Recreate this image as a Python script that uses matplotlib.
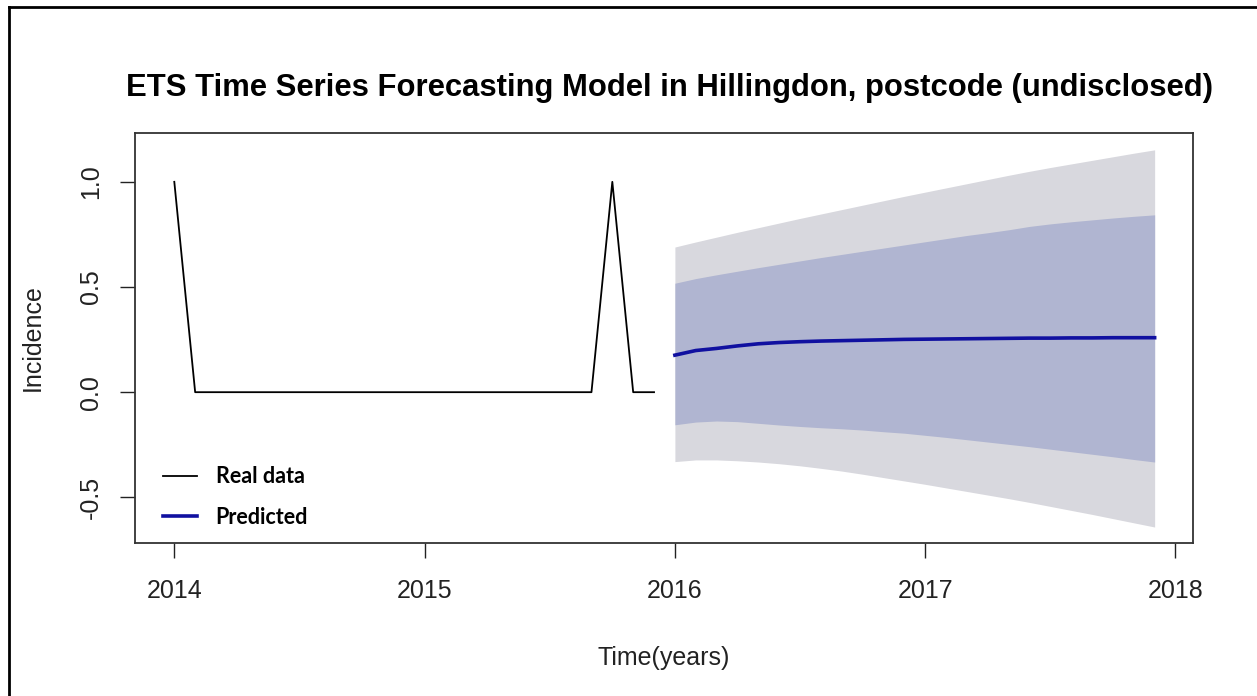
import matplotlib
matplotlib.use("Agg")
import matplotlib.pyplot as plt
from matplotlib.lines import Line2D

plt.rcParams['font.family'] = ['Liberation Sans', 'DejaVu Sans']

# monthly observations, Jan 2014 - Dec 2015
real_t = [2014 + i / 12 for i in range(24)]
real_y = [1, 0, 0, 0, 0, 0, 0, 0, 0, 0, 0, 0,
          0, 0, 0, 0, 0, 0, 0, 0, 0, 1, 0, 0]

# ETS forecast, Jan 2016 - Dec 2017
fc_t = [2016 + i / 12 for i in range(24)]
fc_mean = [0.176, 0.198, 0.208, 0.220, 0.230, 0.236, 0.240, 0.243,
           0.245, 0.247, 0.249, 0.251, 0.252, 0.253, 0.254, 0.255,
           0.256, 0.257, 0.257, 0.258, 0.258, 0.259, 0.259, 0.259]
lo80 = [-0.155, -0.142, -0.137, -0.140, -0.148, -0.156, -0.163, -0.169,
        -0.174, -0.180, -0.188, -0.195, -0.205, -0.215, -0.226, -0.237,
        -0.248, -0.259, -0.271, -0.283, -0.295, -0.307, -0.320, -0.332]
hi80 = [0.518, 0.540, 0.558, 0.575, 0.592, 0.608, 0.624, 0.640,
        0.655, 0.670, 0.685, 0.700, 0.715, 0.730, 0.745, 0.758,
        0.772, 0.788, 0.800, 0.810, 0.819, 0.828, 0.836, 0.843]
lo95 = [-0.330, -0.322, -0.322, -0.326, -0.332, -0.340, -0.350, -0.362,
        -0.375, -0.390, -0.406, -0.422, -0.438, -0.455, -0.472, -0.489,
        -0.506, -0.524, -0.543, -0.562, -0.581, -0.601, -0.621, -0.641]
hi95 = [0.690, 0.714, 0.737, 0.760, 0.782, 0.804, 0.826, 0.847,
        0.868, 0.889, 0.910, 0.931, 0.951, 0.971, 0.991, 1.011,
        1.031, 1.050, 1.068, 1.085, 1.102, 1.119, 1.136, 1.152]

x_ticks = [2014, 2015, 2016, 2017, 2018]
y_ticks = [-0.5, 0.0, 0.5, 1.0]
y_ticklabels = ["-0.5", "0.0", "0.5", "1.0"]

fig = plt.figure(figsize=(12.57, 6.96), dpi=100)
ax = fig.add_axes([0.1074, 0.2198, 0.8417, 0.5891])

ax.fill_between(fc_t, lo95, hi95, color='#d8d8de', lw=0)
ax.fill_between(fc_t, lo80, hi80, color='#b0b5d1', lw=0)
ax.plot(real_t, real_y, color='black', lw=1.3, label='Real data')
ax.plot(fc_t, fc_mean, color='#1010a0', lw=2.6, label='Predicted')

ax.set_xlim(2013.843, 2018.07)
ax.set_ylim(-0.717, 1.232)
ax.set_xticks(x_ticks)
ax.set_xticklabels([str(t) for t in x_ticks])
ax.set_yticks(y_ticks)
ax.set_yticklabels(y_ticklabels, rotation=90, va='center')
ax.tick_params(axis='both', length=11, width=1, color='#222222',
               labelsize=18, labelcolor='#222222')
ax.tick_params(axis='x', pad=15)
ax.tick_params(axis='y', pad=12)
for sp in ax.spines.values():
    sp.set_color('#333333')
    sp.set_linewidth(1.3)

ax.set_xlabel('Time(years)', fontsize=18, color='#222222')
ax.set_ylabel('Incidence', fontsize=18, color='#222222')
ax.xaxis.set_label_coords(0.5, -0.25)
ax.yaxis.set_label_coords(-0.085, 0.5)

ax.set_title('ETS Time Series Forecasting Model in Hillingdon, postcode (undisclosed)',
             fontsize=22.3, fontweight='bold', pad=27, x=0.505)

leg = ax.legend(loc='lower left', bbox_to_anchor=(0.008, -0.01), frameon=False,
                prop={'family': 'Lato', 'weight': 'bold', 'size': 15.5},
                handlelength=1.6, handletextpad=0.85, labelspacing=0.9)

# frame lines along the top and left edge of the figure
fig.add_artist(Line2D([0.007, 0.007], [0, 0.99], color='black', lw=2))
fig.add_artist(Line2D([0.007, 1.0], [0.99, 0.99], color='black', lw=2))

fig.savefig('out.png', dpi=100)
